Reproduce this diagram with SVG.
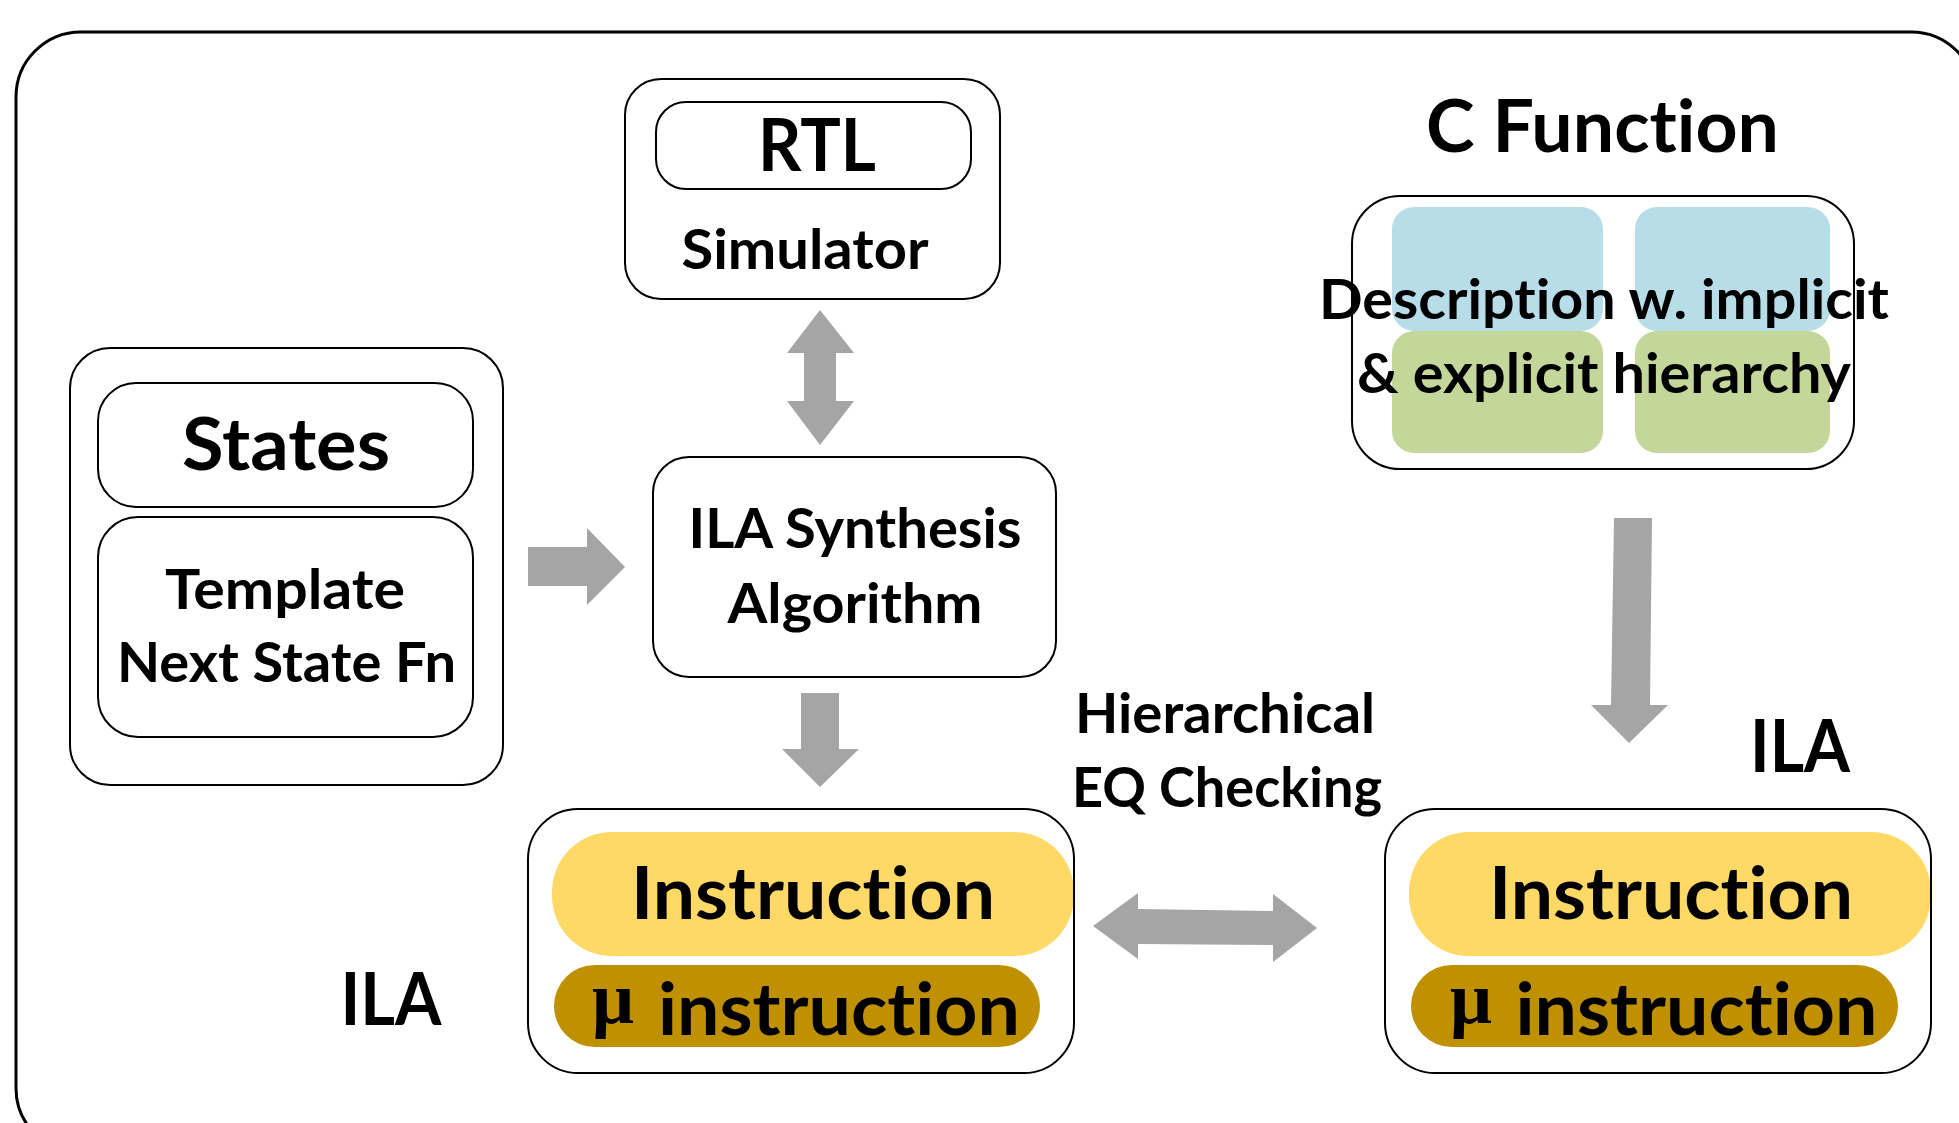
<svg xmlns="http://www.w3.org/2000/svg" width="1959" height="1123" viewBox="0 0 1959 1123">
<style>
.box{fill:none;stroke:#000;stroke-width:2}
.wbox{fill:#fff;stroke:#000;stroke-width:2}
.t{font-family:Lato,"Liberation Sans",sans-serif;font-weight:bold;fill:#000;text-anchor:middle;font-variant-ligatures:none}
.s{font-size:55px}
.l{font-size:73px}
.mu{font-family:"Liberation Serif",serif;font-weight:bold;font-size:74px;fill:#000}
.arr{fill:#A5A5A5}
.yel{fill:#FFD966}
.gold{fill:#BF9000}
.blue{fill:#B7DEE8}
.green{fill:#C4D79B}
</style>
<rect x="0" y="0" width="1959" height="1123" fill="#fff"/>
<rect id="frame" x="16" y="32" width="1960" height="1121" rx="65" ry="65" fill="none" stroke="#000" stroke-width="3"/>

<g id="rtl">
<rect class="wbox" x="625" y="79" width="375" height="220" rx="36"/>
<rect class="box" x="656" y="102" width="315" height="87" rx="30"/>
<text class="t l" x="817" y="171" textLength="118" lengthAdjust="spacingAndGlyphs">RTL</text>
<text class="t s" x="805" y="269" textLength="247" lengthAdjust="spacingAndGlyphs">Simulator</text>
</g>

<g id="states">
<rect class="wbox" x="70" y="348" width="433" height="437" rx="40"/>
<rect class="box" x="98" y="383" width="375" height="124" rx="38"/>
<rect class="box" x="98" y="517" width="375" height="220" rx="40"/>
<text class="t l" x="286" y="470" textLength="208" lengthAdjust="spacingAndGlyphs">States</text>
<text class="t s" x="285" y="609" textLength="240" lengthAdjust="spacingAndGlyphs">Template</text>
<text class="t s" x="286.5" y="682" textLength="339" lengthAdjust="spacingAndGlyphs">Next State Fn</text>
</g>

<g id="synthesis">
<rect class="wbox" x="653" y="457" width="403" height="220" rx="36"/>
<text class="t s" x="855" y="548" textLength="333" lengthAdjust="spacingAndGlyphs">ILA Synthesis</text>
<text class="t s" x="855" y="623" textLength="255" lengthAdjust="spacingAndGlyphs">Algorithm</text>
</g>

<g id="cfunction">
<text class="t l" x="1602.5" y="152" textLength="353" lengthAdjust="spacingAndGlyphs">C Function</text>
<rect class="wbox" x="1352" y="196" width="502" height="273" rx="48"/>
<rect class="blue" x="1392" y="207" width="211" height="124" rx="22"/>
<rect class="blue" x="1635" y="207" width="195" height="124" rx="22"/>
<rect class="green" x="1392" y="331" width="211" height="122" rx="22"/>
<rect class="green" x="1635" y="331" width="195" height="122" rx="22"/>
<text class="t s" x="1604" y="319" textLength="570" lengthAdjust="spacingAndGlyphs">Description w. implicit</text>
<text class="t s" x="1604" y="393" textLength="494" lengthAdjust="spacingAndGlyphs">&amp; explicit hierarchy</text>
</g>

<g id="ila-left">
<text class="t l" x="391" y="1025" textLength="101" lengthAdjust="spacingAndGlyphs">ILA</text>
<rect x="528" y="809" width="546" height="264" rx="50" fill="#fff"/>
<rect class="yel" x="552" y="832" width="522" height="124" rx="60"/>
<rect class="gold" x="554" y="965" width="486" height="82" rx="41"/>
<rect class="box" x="528" y="809" width="546" height="264" rx="50"/>
<text class="t l" x="813" y="919" textLength="364" lengthAdjust="spacingAndGlyphs">Instruction</text>
<text class="mu" x="592" y="1023">μ</text>
<text class="t l" x="839" y="1035" textLength="362" lengthAdjust="spacingAndGlyphs">instruction</text>
</g>

<g id="ila-right">
<text class="t l" x="1800" y="772" textLength="100" lengthAdjust="spacingAndGlyphs">ILA</text>
<rect x="1385" y="809" width="546" height="264" rx="50" fill="#fff"/>
<rect class="yel" x="1409" y="832" width="522" height="124" rx="60"/>
<rect class="gold" x="1411" y="965" width="487" height="82" rx="41"/>
<rect class="box" x="1385" y="809" width="546" height="264" rx="50"/>
<text class="t l" x="1671" y="919" textLength="364" lengthAdjust="spacingAndGlyphs">Instruction</text>
<text class="mu" x="1450" y="1023">μ</text>
<text class="t l" x="1696.5" y="1035" textLength="362" lengthAdjust="spacingAndGlyphs">instruction</text>
</g>

<g id="eq-label">
<text class="t s" x="1225" y="733" textLength="300" lengthAdjust="spacingAndGlyphs">Hierarchical</text>
<text class="t s" x="1227" y="807" textLength="310" lengthAdjust="spacingAndGlyphs">EQ Checking</text>
</g>

<g id="connectors">
<polygon class="arr" points="820,310 854,353 836,353 836,401 854,401 820,445 787,401 804,401 804,353 787,353"/>
<polygon class="arr" points="528,547 587,547 587,528 625,567 587,605 587,586 528,586"/>
<polygon class="arr" points="801,693 839,693 839,749 859,749 820,787 782,749 801,749"/>
<polygon class="arr" points="1093,926 1138,893 1138,909 1273,911 1273,894 1317,928 1273,962 1273,945 1138,944 1138,959"/>
<polygon class="arr" points="1614,518 1652,518 1650,705 1668,705 1629,743 1591,705 1611,705"/>
</g>
</svg>
